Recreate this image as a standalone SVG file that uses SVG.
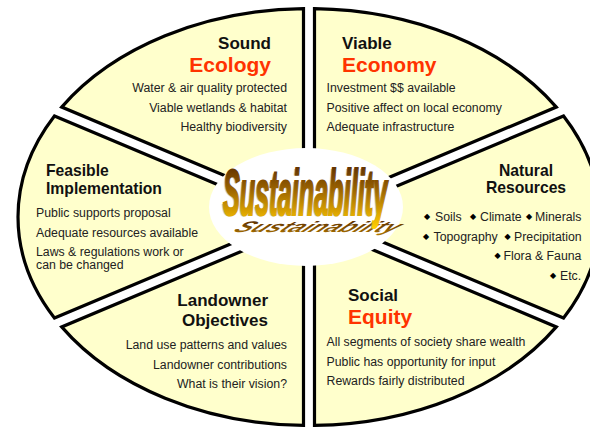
<svg xmlns="http://www.w3.org/2000/svg" width="590" height="428" viewBox="0 0 590 428">
<defs>
<linearGradient id="gold" x1="0" y1="0" x2="0" y2="1">
<stop offset="0" stop-color="#4a1e00"/>
<stop offset="0.45" stop-color="#9a6200"/>
<stop offset="0.8" stop-color="#e0a800"/>
<stop offset="1" stop-color="#ffd000"/>
</linearGradient>
<linearGradient id="shadowgrad" x1="0" y1="0" x2="0" y2="1">
<stop offset="0" stop-color="#4a2000"/>
<stop offset="1" stop-color="#b07800"/>
</linearGradient>
</defs>
<style>
.wedge{fill:#ffffcc;stroke:#000;stroke-width:3.2;stroke-linejoin:miter}
.t{font-family:"Liberation Sans",Arial,sans-serif;font-weight:bold;fill:#111}
.t17{font-size:17px}
.t16{font-size:15.7px}
.red{font-family:"Liberation Sans",Arial,sans-serif;font-weight:bold;font-size:21px;fill:#ff3300}
.b{font-family:"Liberation Sans",Arial,sans-serif;font-size:12.3px;fill:#222}
.dia{font-family:"DejaVu Sans",sans-serif;font-size:8px;fill:#000}
.sus{font-family:"Liberation Sans",Arial,sans-serif;font-weight:bold;font-style:italic;font-size:64px}
</style>
<g id="sound-ecology">
<path class="wedge" d="M303.5,208.72 L303.5,8.54 A291,208.5 0 0,0 61.7,107.1 Z"/>
<text class="t t17" x="271" y="49" text-anchor="end">Sound</text>
<text class="red" x="271" y="72" text-anchor="end">Ecology</text>
<text class="b" x="287" y="92" text-anchor="end">Water &amp; air quality protected</text>
<text class="b" x="287" y="112" text-anchor="end">Viable wetlands &amp; habitat</text>
<text class="b" x="287" y="131" text-anchor="end">Healthy biodiversity</text>
</g>
<g id="viable-economy">
<path class="wedge" d="M314.5,208.72 L314.5,8.54 A291,208.5 0 0,1 556.3,107.1 Z"/>
<text class="t t17" x="342" y="49">Viable</text>
<text class="red" x="342" y="71.5">Economy</text>
<text class="b" x="326.5" y="92">Investment $$ available</text>
<text class="b" x="326.5" y="112">Positive affect on local economy</text>
<text class="b" x="326.5" y="131">Adequate infrastructure</text>
</g>
<g id="natural-resources">
<path class="wedge" d="M323.2,217 L563.55,115.97 A291,208.5 0 0,1 563.55,318.03 Z"/>
<text class="t t16" x="526" y="176" text-anchor="middle">Natural</text>
<text class="t t16" x="526" y="193" text-anchor="middle">Resources</text>
<text class="dia" x="424" y="219">◆</text><text class="b" x="435" y="221">Soils</text>
<text class="dia" x="470" y="219">◆</text><text class="b" x="480" y="221">Climate</text>
<text class="dia" x="526" y="219">◆</text><text class="b" x="535" y="221">Minerals</text>
<text class="dia" x="423" y="239">◆</text><text class="b" x="433.5" y="241">Topography</text>
<text class="dia" x="504.5" y="239">◆</text><text class="b" x="514" y="241">Precipitation</text>
<text class="dia" x="494.5" y="258">◆</text><text class="b" x="503.5" y="260">Flora &amp; Fauna</text>
<text class="dia" x="550" y="278">◆</text><text class="b" x="560" y="280">Etc.</text>
</g>
<g id="social-equity">
<path class="wedge" d="M314.5,225.28 L556.3,326.9 A291,208.5 0 0,1 314.5,425.46 Z"/>
<text class="t t17" x="348" y="301">Social</text>
<text class="red" x="348" y="324">Equity</text>
<text class="b" x="326.5" y="346">All segments of society share wealth</text>
<text class="b" x="326.5" y="366">Public has opportunity for input</text>
<text class="b" x="326.5" y="385">Rewards fairly distributed</text>
</g>
<g id="landowner-objectives">
<path class="wedge" d="M303.5,225.28 L303.5,425.46 A291,208.5 0 0,1 61.7,326.9 Z"/>
<text class="t t17" x="268" y="305.5" text-anchor="end">Landowner</text>
<text class="t t17" x="268" y="326" text-anchor="end">Objectives</text>
<text class="b" x="287" y="349" text-anchor="end">Land use patterns and values</text>
<text class="b" x="287" y="369" text-anchor="end">Landowner contributions</text>
<text class="b" x="287" y="388" text-anchor="end">What is their vision?</text>
</g>
<g id="feasible-implementation">
<path class="wedge" d="M294.8,217 L54.45,318.03 A291,208.5 0 0,1 54.45,115.97 Z"/>
<text class="t t16" x="46" y="176">Feasible</text>
<text class="t t16" x="46" y="194">Implementation</text>
<text class="b" x="36" y="217">Public supports proposal</text>
<text class="b" x="36" y="237">Adequate resources available</text>
<text class="b" x="36" y="255.5">Laws &amp; regulations work or</text>
<text class="b" x="36" y="268.5">can be changed</text>
</g>
<g id="sustainability">
<ellipse cx="306" cy="207" rx="97" ry="59" fill="#fff"/>
<text class="sus" transform="translate(232,232) scale(0.39,0.24) skewX(-35)" fill="url(#shadowgrad)">Sustainability</text>
<text class="sus" transform="translate(221.5,216) scale(0.395,1)" fill="#999" opacity="0.6">Sustainability</text>
<text class="sus" transform="translate(223,215) scale(0.395,1)" fill="url(#gold)" stroke="url(#gold)" stroke-width="2.2">Sustainability</text>
</g>
</svg>
